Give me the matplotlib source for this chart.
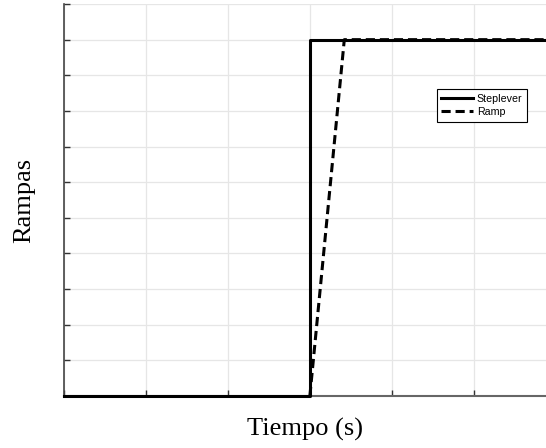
import matplotlib.pyplot as plt
import numpy as np

# señales: escalón y rampa
t_step = [0, 3, 3, 6]
y_step = [0, 0, 1, 1]
t_ramp = [0, 3, 3.42, 6]
y_ramp = [0, 0, 1, 1]

fig = plt.figure(figsize=(5.46, 4.48), dpi=100)
ax = fig.add_axes([0.117, 0.116, 0.883, 0.875])

ax.plot(t_step, y_step, color='black', linewidth=2.2, linestyle='-', label='Steplever',
        zorder=4, clip_on=False)
# el tramo en cero de la rampa queda bajo el escalón
ax.plot(t_ramp[1:], y_ramp[1:], color='black', linewidth=2.2, linestyle=(0, (3, 1.6)), label='Ramp',
        zorder=3)

ax.set_xlim(0, 5.88)
ax.set_ylim(0, 1.1)
ax.set_xticks(np.arange(0, 6, 1))
ax.set_yticks(np.arange(0, 1.11, 0.1))
ax.set_xticklabels([])
ax.set_yticklabels([])
ax.tick_params(direction='in', length=4, width=1, colors='#333333')
ax.grid(True, color='#e6e6e6', linewidth=0.9)
ax.set_axisbelow(True)

for s in ['top', 'right']:
    ax.spines[s].set_visible(False)
ax.spines['left'].set_color('#444444')
ax.spines['bottom'].set_color('#666666')
ax.spines['left'].set_linewidth(1.2)
ax.spines['bottom'].set_linewidth(1.5)

ax.set_xlabel('Tiempo (s)', family='Liberation Serif', fontsize=19, labelpad=12)
ax.set_ylabel('Rampas', family='Liberation Serif', fontsize=19, labelpad=17)

leg = ax.legend(loc='upper left', bbox_to_anchor=(0.762, 0.797), prop={'family': 'Liberation Sans', 'size': 7.7},
                fancybox=False, edgecolor='black', framealpha=1, handlelength=3.0,
                borderpad=0.45, labelspacing=0.3, handletextpad=0.3)
leg.get_frame().set_linewidth(0.8)

plt.savefig('out.png', dpi=100)
